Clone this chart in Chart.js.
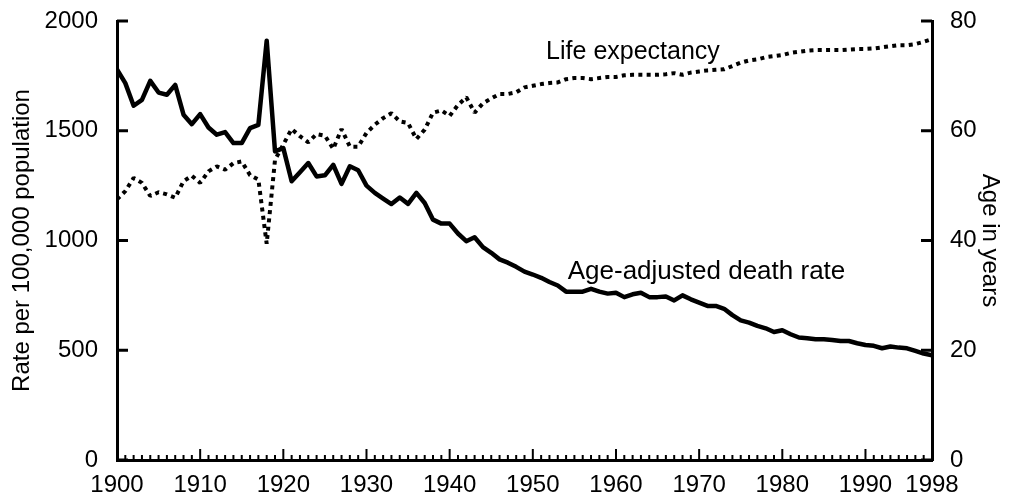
<!DOCTYPE html>
<html>
<head>
<meta charset="utf-8">
<script src="https://cdn.jsdelivr.net/npm/chart.js@4"></script>
<style>
  html, body { margin: 0; padding: 0; background: #fff; }
</style>
</head>
<body>
<canvas id="chart" width="1010" height="500"></canvas>
<script>
const years = [];
for (let yr = 1900; yr <= 1998; yr++) years.push(yr);

// age-adjusted death rate per 100,000 (left axis)
const deathRate = [
  1779, 1717, 1614, 1641, 1727, 1674, 1664, 1709, 1573, 1530,
  1576, 1515, 1482, 1494, 1444, 1444, 1512, 1527, 1910, 1406,
  1421, 1270, 1311, 1353, 1292, 1297, 1345, 1258, 1338, 1320,
  1250, 1217, 1191, 1166, 1196, 1167, 1217, 1171, 1095, 1077,
  1077, 1032, 997, 1015, 970, 944, 914, 899, 880, 858,
  845, 830, 811, 795, 767, 767, 767, 780, 767, 758,
  762, 742, 755, 762, 742, 742, 745, 727, 750, 732,
  717, 702, 702, 689, 660, 636, 626, 611, 600, 583,
  591, 573, 558, 555, 550, 550, 547, 542, 542, 532,
  524, 520, 509, 517, 512, 509, 497, 485, 477
];

// life expectancy in years (right axis)
const lifeExp = [
  47.5, 49.0, 51.4, 50.5, 48.1, 48.8, 48.4, 47.8, 50.8, 51.8,
  50.5, 52.6, 53.5, 52.9, 54.1, 54.4, 51.9, 51.1, 39.4, 54.7,
  57.5, 60.3, 59.0, 57.9, 59.4, 59.1, 56.7, 60.3, 57.1, 57.1,
  59.6, 61.1, 62.3, 63.2, 61.7, 61.4, 58.5, 60.2, 63.3, 63.7,
  62.7, 64.7, 66.1, 63.3, 65.0, 65.9, 66.7, 66.7, 67.0, 67.9,
  68.2, 68.5, 68.7, 68.8, 69.4, 69.6, 69.6, 69.4, 69.6, 69.8,
  69.8, 70.1, 70.2, 70.2, 70.2, 70.2, 70.3, 70.5, 70.2, 70.6,
  70.8, 71.0, 71.1, 71.2, 71.8, 72.4, 72.8, 73.0, 73.4, 73.6,
  73.8, 74.2, 74.4, 74.6, 74.7, 74.7, 74.7, 74.7, 74.8, 74.9,
  74.9, 75.0, 75.2, 75.4, 75.6, 75.6, 75.8, 76.2, 76.7
];

const xLabels = [1900, 1910, 1920, 1930, 1940, 1950, 1960, 1970, 1980, 1990, 1998];
const rateTicks = [0, 500, 1000, 1500, 2000];
const ageTicks = [0, 20, 40, 60, 80];

const FONT = 'Liberation Sans, Arial, Helvetica, sans-serif';

// tick marks point into the plot, drawn from the scales
const inwardTicks = {
  id: 'inwardTicks',
  afterDraw(chart) {
    const ctx = chart.ctx;
    const a = chart.chartArea;
    const x = chart.scales.x, y = chart.scales.y, y2 = chart.scales.y2;
    ctx.save();
    ctx.strokeStyle = '#000';
    ctx.lineCap = 'butt';
    ctx.lineWidth = 2;
    years.forEach(v => {
      const px = x.getPixelForValue(v);
      const len = v % 10 === 0 ? 11 : 5;
      ctx.beginPath();
      ctx.moveTo(px, a.bottom);
      ctx.lineTo(px, a.bottom - len);
      ctx.stroke();
    });
    ctx.lineWidth = 3;
    rateTicks.forEach(v => {
      const py = y.getPixelForValue(v);
      ctx.beginPath();
      ctx.moveTo(a.left, py);
      ctx.lineTo(a.left + 11, py);
      ctx.stroke();
    });
    ageTicks.forEach(v => {
      const py = y2.getPixelForValue(v);
      ctx.beginPath();
      ctx.moveTo(a.right, py);
      ctx.lineTo(a.right - 11, py);
      ctx.stroke();
    });
    ctx.restore();
  }
};

const seriesLabels = {
  id: 'seriesLabels',
  afterDatasetsDraw(chart) {
    const {ctx, scales: {x, y, y2}} = chart;
    ctx.save();
    ctx.fillStyle = '#000';
    ctx.textAlign = 'left';
    ctx.textBaseline = 'alphabetic';
    ctx.font = '25px ' + FONT;
    ctx.fillText('Life expectancy', x.getPixelForValue(1951.6), y2.getPixelForValue(73.1));
    ctx.font = '26px ' + FONT;
    ctx.fillText('Age-adjusted death rate', x.getPixelForValue(1954.2), y.getPixelForValue(825));
    ctx.restore();
  }
};

const plain = v => String(v);
// keep the plot box fixed: side axes get a set width and no extra top/bottom room
const sideFit = w => s => { s.width = w; s.paddingTop = 0; s.paddingBottom = 0; };

new Chart(document.getElementById('chart'), {
  type: 'line',
  data: {
    labels: years,
    datasets: [
      {
        label: 'Age-adjusted death rate',
        data: years.map((yr, i) => ({x: yr, y: deathRate[i]})),
        yAxisID: 'y',
        borderColor: '#000',
        borderWidth: 4.5,
        pointRadius: 0,
        tension: 0,
        borderJoinStyle: 'round'
      },
      {
        label: 'Life expectancy',
        data: years.map((yr, i) => ({x: yr, y: lifeExp[i]})),
        yAxisID: 'y2',
        borderColor: '#000',
        borderWidth: 4,
        borderDash: [4, 4.3],
        borderCapStyle: 'butt',
        borderJoinStyle: 'bevel',
        pointRadius: 0,
        tension: 0
      }
    ]
  },
  options: {
    responsive: false,
    animation: false,
    layout: { padding: { top: 21, left: 0, right: 0, bottom: 0 } },
    plugins: { legend: { display: false }, tooltip: { enabled: false } },
    scales: {
      x: {
        type: 'linear',
        min: 1900,
        max: 1998,
        afterBuildTicks: s => { s.ticks = xLabels.map(v => ({value: v})); },
        afterFit: s => { s.height = 40; },
        grid: { display: false, drawTicks: false },
        border: { display: true, color: '#000', width: 3 },
        ticks: {
          autoSkip: false,
          maxRotation: 0,
          padding: 11,
          color: '#000',
          callback: plain,
          font: { family: FONT, size: 24 }
        }
      },
      y: {
        position: 'left',
        min: 0,
        max: 2000,
        afterBuildTicks: s => { s.ticks = rateTicks.map(v => ({value: v})); },
        afterFit: sideFit(117),
        grid: { display: false, drawTicks: false },
        border: { display: true, color: '#000', width: 3 },
        ticks: {
          padding: 19,
          color: '#000',
          callback: plain,
          font: { family: FONT, size: 24 }
        },
        title: {
          display: true,
          text: 'Rate per 100,000 population',
          color: '#000',
          font: { family: FONT, size: 24 },
          padding: { top: 8 }
        }
      },
      y2: {
        position: 'right',
        min: 0,
        max: 80,
        afterBuildTicks: s => { s.ticks = ageTicks.map(v => ({value: v})); },
        afterFit: sideFit(78),
        grid: { display: false, drawTicks: false },
        border: { display: true, color: '#000', width: 3 },
        ticks: {
          padding: 18,
          color: '#000',
          callback: plain,
          font: { family: FONT, size: 24 }
        },
        title: {
          display: true,
          text: 'Age in years',
          color: '#000',
          font: { family: FONT, size: 24 },
          padding: { top: 6 }
        }
      }
    }
  },
  plugins: [inwardTicks, seriesLabels]
});
</script>
</body>
</html>
